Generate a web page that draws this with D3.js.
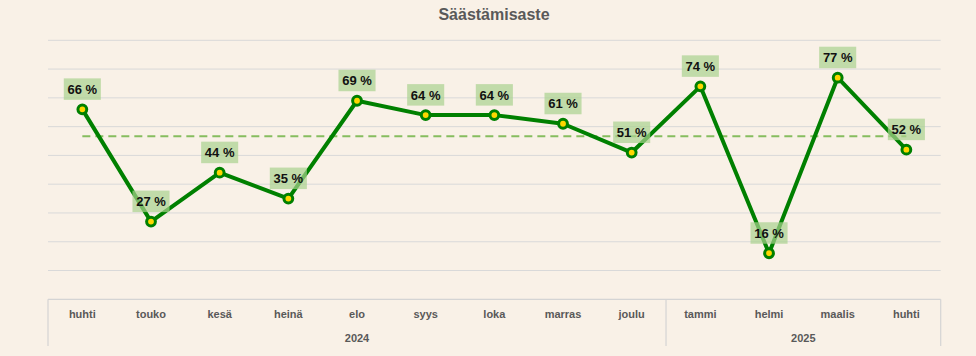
<!DOCTYPE html>
<html>
<head>
<meta charset="utf-8">
<script src="https://cdn.jsdelivr.net/npm/d3@7"></script>
<style>
  html, body { margin: 0; padding: 0; background: #f9f1e7; }
  svg { display: block; }
  text { font-family: "Liberation Sans", Arial, sans-serif; }
</style>
</head>
<body>
<svg id="chart" width="976" height="356"></svg>
<script>
// ---- data ----
const title = "Säästämisaste";
const months = ["huhti","touko","kesä","heinä","elo","syys","loka","marras","joulu","tammi","helmi","maalis","huhti"];
const values = [66, 27, 44, 35, 69, 64, 64, 61, 51, 74, 16, 77, 52];
const years = ["2024", "2025"];
const yearCounts = [9, 4];
const referenceLine = [56.7];
const yTicks = [10, 20, 30, 40, 50, 60, 70, 80, 90];

// ---- layout ----
const W = 976, H = 356;
const plotLeft = 48, plotRight = 940.7, plotTop = 40.3, plotBottom = 299.3;
const svg = d3.select("#chart");
svg.append("rect").attr("width", W).attr("height", H).attr("fill", "#f9f1e7");

const idx = months.map((m, i) => i);
const x = d3.scaleBand().domain(idx).range([plotLeft, plotRight]).padding(0);
const y = d3.scaleLinear().domain([0, 90]).range([plotBottom, plotTop]);
const cx = i => x(i) + x.bandwidth() / 2;

// gridlines
svg.append("g").selectAll("line").data(yTicks).join("line")
  .attr("x1", plotLeft).attr("x2", plotRight)
  .attr("y1", d => y(d)).attr("y2", d => y(d))
  .attr("stroke", "#d9d9d9").attr("stroke-width", 1);

// axis baseline and group separators
const axisG = svg.append("g");
axisG.append("line").attr("x1", plotLeft).attr("x2", plotRight)
  .attr("y1", y(0)).attr("y2", y(0)).attr("stroke", "#d4d4d4").attr("stroke-width", 1.2);

let acc = 0;
const bounds = [0];
yearCounts.forEach(c => { acc += c; bounds.push(acc); });
const bx = b => b < months.length ? x(b) : plotRight;
axisG.selectAll("line.sep").data(bounds).join("line").attr("class", "sep")
  .attr("x1", bx).attr("x2", bx)
  .attr("y1", y(0)).attr("y2", 346)
  .attr("stroke", "#d4d4d4").attr("stroke-width", 1.2);

// month labels
axisG.selectAll("text.month").data(idx).join("text").attr("class", "month")
  .attr("x", i => cx(i)).attr("y", 318)
  .attr("text-anchor", "middle")
  .attr("font-size", 11).attr("font-weight", "bold").attr("fill", "#595959")
  .text(i => months[i]);

// year labels
axisG.selectAll("text.year").data(years).join("text").attr("class", "year")
  .attr("x", (d, k) => (bx(bounds[k]) + bx(bounds[k + 1])) / 2)
  .attr("y", 342)
  .attr("text-anchor", "middle")
  .attr("font-size", 11).attr("font-weight", "bold").attr("fill", "#595959")
  .text(d => d);

// reference dashed line
svg.append("g").selectAll("line").data(referenceLine).join("line")
  .attr("x1", cx(0)).attr("x2", cx(months.length - 1))
  .attr("y1", d => y(d)).attr("y2", d => y(d))
  .attr("stroke", "#86bd5f").attr("stroke-width", 2)
  .attr("stroke-dasharray", "8,5");

// series line
const line = d3.line().x((d, i) => cx(i)).y(d => y(d));
svg.append("path").datum(values)
  .attr("d", line).attr("fill", "none")
  .attr("stroke", "#008000").attr("stroke-width", 4)
  .attr("stroke-linejoin", "round");

// markers
svg.append("g").selectAll("circle").data(values).join("circle")
  .attr("cx", (d, i) => cx(i)).attr("cy", d => y(d))
  .attr("r", 4.4)
  .attr("fill", "#ffd700").attr("stroke", "#008000").attr("stroke-width", 3);

// data labels
const lab = svg.append("g").selectAll("g").data(values).join("g");
lab.append("text")
  .attr("x", (d, i) => cx(i)).attr("y", d => y(d) - 15.5)
  .attr("text-anchor", "middle")
  .attr("font-size", 13).attr("font-weight", "bold").attr("fill", "#111")
  .text(d => d + " %");
lab.each(function(d, i) {
  const g = d3.select(this);
  const bb = g.select("text").node().getBBox();
  const w = bb.width + 7;
  g.insert("rect", "text")
    .attr("x", cx(i) - w / 2).attr("y", y(d) - 31)
    .attr("width", w).attr("height", 21.5)
    .attr("fill", "#a9d18e").attr("fill-opacity", 0.7);
});

// title
svg.append("text").attr("x", 494).attr("y", 20)
  .attr("text-anchor", "middle")
  .attr("font-size", 16).attr("font-weight", "bold").attr("fill", "#595959")
  .text(title);
</script>
</body>
</html>
